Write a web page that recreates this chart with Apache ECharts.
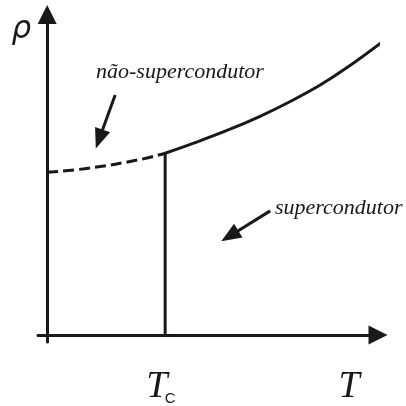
<!DOCTYPE html>
<html>
<head>
<meta charset="utf-8">
<script src="https://cdn.jsdelivr.net/npm/echarts@6/dist/echarts.min.js"></script>
<style>
  html, body { margin: 0; padding: 0; background: #fff; }
  #main { width: 406px; height: 406px; }
</style>
</head>
<body>
<div id="main"></div>
<script>
// resistividade x temperatura (esquemático, unidades arbitrárias)
var tc = 3.47
var rhoTc = 5.52

// trecho tracejado (abaixo de Tc, extrapolação do estado normal)
var dashT = [0, 1.26, 2.74, 3.47]
var dashRho = [4.94, 5.07, 5.33, 5.52]

// trecho contínuo (estado normal, acima de Tc)
var solidT = [3.47, 4.29, 5.29, 6.26, 7.15, 8.03, 8.82, 9.88]
var solidRho = [5.52, 5.82, 6.21, 6.64, 7.09, 7.59, 8.12, 8.92]

// setas de anotação: [início, fim]
var arrowNormal = [[2.0, 7.29], [1.53, 5.95]]
var arrowSuper = [[6.56, 3.77], [5.37, 3.01]]

// posições dos rótulos do eixo x
var xLabelValues = [tc, 8.88]

var ink = '#1a1818'

function pairs(xs, ys) {
  return xs.map(function (x, i) { return [x, ys[i]] })
}

var myChart = echarts.init(document.getElementById('main'))

var option = {
  animation: false,
  grid: {
    left: 38,
    right: 28,
    top: 14.5,
    bottom: 62
  },
  xAxis: {
    type: 'value',
    min: -0.27,
    max: 9.73,
    splitLine: { show: false },
    axisTick: { show: false },
    axisLine: {
      onZero: true,
      symbol: ['none', 'triangle'],
      symbolSize: [19, 19],
      lineStyle: { color: ink, width: 3 }
    },
    axisLabel: {
      customValues: xLabelValues,
      margin: 26,
      formatter: function (v) {
        return v === tc ? '{ts|T}{c|C}' : '{t|T}'
      },
      rich: {
        t: {
          fontFamily: 'Liberation Serif',
          fontStyle: 'italic',
          fontSize: 38,
          color: ink
        },
        ts: {
          fontFamily: 'Liberation Serif',
          fontStyle: 'italic',
          fontSize: 38,
          width: 16,
          color: ink
        },
        c: {
          fontFamily: 'Liberation Sans',
          fontSize: 15,
          lineHeight: 11,
          padding: [0, 6, 0, 0],
          color: ink,
          verticalAlign: 'bottom'
        }
      }
    }
  },
  yAxis: {
    type: 'value',
    min: -0.21,
    max: 9.73,
    name: 'ρ',
    nameLocation: 'end',
    nameGap: -15,
    nameTextStyle: {
      fontFamily: 'DejaVu Sans',
      fontStyle: 'italic',
      fontSize: 31,
      color: ink,
      align: 'right',
      verticalAlign: 'middle',
      padding: [0, 16, 0, 0]
    },
    splitLine: { show: false },
    axisTick: { show: false },
    axisLabel: { show: false },
    axisLine: {
      onZero: true,
      symbol: ['none', 'triangle'],
      symbolSize: [19, 19],
      lineStyle: { color: ink, width: 3 }
    }
  },
  graphic: [
    {
      type: 'text',
      left: 96,
      top: 61,
      style: {
        text: 'não-supercondutor',
        font: 'italic 22px "Liberation Serif"',
        fill: ink
      }
    },
    {
      type: 'text',
      left: 275,
      top: 197,
      style: {
        text: 'supercondutor',
        font: 'italic 22px "Liberation Serif"',
        fill: ink
      }
    }
  ],
  series: [
    {
      name: 'normal-dash',
      type: 'line',
      data: pairs(dashT, dashRho),
      smooth: 0.4,
      symbol: 'none',
      clip: false,
      lineStyle: { color: ink, width: 3, type: [11, 5] }
    },
    {
      name: 'normal',
      type: 'line',
      data: pairs(solidT, solidRho),
      smooth: 0.4,
      symbol: 'none',
      clip: false,
      lineStyle: { color: ink, width: 3 },
      markLine: {
        silent: true,
        symbol: ['none', 'triangle'],
        symbolSize: [16, 20],
        label: { show: false },
        lineStyle: { color: ink, width: 3, type: 'solid' },
        data: [
          [{ coord: arrowNormal[0] }, { coord: arrowNormal[1] }],
          [{ coord: arrowSuper[0] }, { coord: arrowSuper[1] }]
        ]
      }
    },
    {
      name: 'tc',
      type: 'line',
      data: [[tc, 0], [tc, rhoTc]],
      symbol: 'none',
      lineStyle: { color: ink, width: 3 }
    }
  ]
}

option && myChart.setOption(option)
</script>
</body>
</html>
